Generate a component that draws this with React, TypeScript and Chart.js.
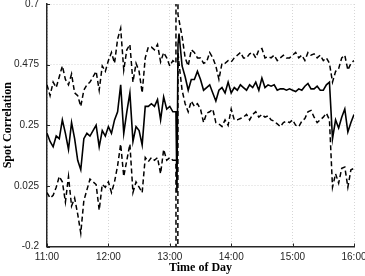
import React, { useEffect, useRef } from 'react';
import { Chart, registerables } from 'chart.js';

Chart.register(...registerables);

// sample times in minutes after 11:00 (3-minute steps, plus 1-minute samples around the 13:07 spike)
const sampleMinutes = [
  ...Array.from({ length: 43 }, (_, i) => i * 3),
  127,
  128,
  ...Array.from({ length: 58 }, (_, i) => 129 + i * 3),
];

const xTickValues = [0, 60, 120, 180, 240, 300];
const xTickLabels = ['11:00', '12:00', '13:00', '14:00', '15:00', '16:00'];
const yTickValues = [-0.2, 0.025, 0.25, 0.475, 0.7];
const yTickLabels = ['-0.2', '0.025', '0.25', '0.475', '0.7'];

const upperBand = [
  0.40, 0.36, 0.41, 0.39, 0.43, 0.47, 0.42, 0.40, 0.44, 0.37,
  0.36, 0.32, 0.38, 0.40, 0.41, 0.43, 0.45, 0.38, 0.47, 0.45,
  0.49, 0.52, 0.48, 0.57, 0.61, 0.455, 0.53, 0.55, 0.41, 0.48,
  0.45, 0.37, 0.50, 0.54, 0.54, 0.53, 0.55, 0.485, 0.52, 0.50,
  0.47, 0.49, 0.48, 5.0, 0.66, 0.64, 0.58, 0.50, 0.47, 0.53, 0.52, 0.50,
  0.50, 0.48, 0.485, 0.52, 0.50, 0.47, 0.42, 0.48, 0.48, 0.49,
  0.485, 0.50, 0.51, 0.52, 0.50, 0.50, 0.515, 0.52, 0.50, 0.53,
  0.535, 0.50, 0.505, 0.50, 0.51, 0.49, 0.50, 0.51, 0.50, 0.50,
  0.51, 0.52, 0.50, 0.51, 0.49, 0.52, 0.51, 0.515, 0.50, 0.51,
  0.49, 0.50, 0.48, 0.41, 0.45, 0.46, 0.50, 0.51, 0.455, 0.48,
  0.49,
];

const spotCorrelation = [
  0.22, 0.19, 0.17, 0.21, 0.20, 0.27, 0.22, 0.16, 0.26, 0.20,
  0.12, 0.085, 0.20, 0.22, 0.21, 0.23, 0.25, 0.17, 0.23, 0.21,
  0.245, 0.22, 0.27, 0.30, 0.40, 0.22, 0.30, 0.37, 0.19, 0.245,
  0.23, 0.177, 0.32, 0.32, 0.33, 0.32, 0.345, 0.27, 0.355, 0.31,
  0.32, 0.30, 0.30, 0.0, 0.55, 0.59, 0.47, 0.43, 0.38, 0.42, 0.42, 0.45,
  0.42, 0.38, 0.39, 0.40, 0.37, 0.34, 0.38, 0.39, 0.37, 0.41,
  0.37, 0.39, 0.38, 0.40, 0.39, 0.38, 0.40, 0.39, 0.41, 0.38,
  0.425, 0.39, 0.40, 0.395, 0.40, 0.38, 0.385, 0.385, 0.38, 0.385,
  0.38, 0.375, 0.385, 0.38, 0.395, 0.405, 0.385, 0.385, 0.395, 0.38,
  0.38, 0.40, 0.41, 0.20, 0.27, 0.24, 0.28, 0.31, 0.225, 0.26,
  0.29,
];

const lowerBand = [
  0.00, -0.02, -0.01, 0.02, 0.06, 0.04, -0.035, 0.06, -0.05, -0.02,
  -0.08, -0.15, -0.03, 0.01, 0.05, 0.04, 0.03, -0.065, 0.03, 0.02,
  0.04, 0.00, 0.04, 0.10, 0.18, 0.06, 0.12, 0.18, 0.00, 0.04,
  0.02, 0.00, 0.13, 0.115, 0.13, 0.12, 0.13, 0.07, 0.16, 0.12,
  0.13, 0.12, 0.12, -5.0, 0.52, 0.48, 0.38, 0.33, 0.30, 0.34, 0.32, 0.33,
  0.31, 0.26, 0.295, 0.30, 0.31, 0.26, 0.255, 0.245, 0.27, 0.25,
  0.31, 0.27, 0.27, 0.275, 0.28, 0.29, 0.27, 0.29, 0.30, 0.28,
  0.29, 0.28, 0.285, 0.27, 0.265, 0.255, 0.245, 0.26, 0.265, 0.26,
  0.27, 0.25, 0.245, 0.265, 0.275, 0.30, 0.305, 0.28, 0.26, 0.27,
  0.28, 0.295, 0.27, 0.02, 0.07, 0.035, 0.09, 0.095, 0.02, 0.085,
  0.09,
];

const toPoints = (vals: number[]) => vals.map((v, i) => ({ x: sampleMinutes[i], y: v }));

const AXIS_COLOR = '#262626';

const innerTicks = {
  id: 'innerTicks',
  afterDraw(chart: any) {
    const { ctx, chartArea: a, scales } = chart;
    const x = scales.x;
    const y = scales.y;
    ctx.save();
    ctx.strokeStyle = AXIS_COLOR;
    ctx.lineWidth = 1;
    x.ticks.forEach((t: any) => {
      const px = Math.round(x.getPixelForValue(t.value)) + 0.5;
      ctx.beginPath();
      ctx.moveTo(px, a.bottom);
      ctx.lineTo(px, a.bottom - 3);
      ctx.stroke();
    });
    y.ticks.forEach((t: any) => {
      const py = Math.round(y.getPixelForValue(t.value)) + 0.5;
      ctx.beginPath();
      ctx.moveTo(a.left, py);
      ctx.lineTo(a.left + 3, py);
      ctx.stroke();
    });
    ctx.restore();
  },
};

export default function App() {
  const ref = useRef<HTMLCanvasElement | null>(null);

  useEffect(() => {
    document.body.style.margin = '0';
    const canvas = ref.current;
    if (!canvas) return;
    const tickFont = { family: "'Liberation Sans', Arial, sans-serif", size: 10, lineHeight: 0.8 };
    const titleFont = { family: "'Liberation Serif', 'Times New Roman', serif", size: 12, weight: 'bold' as const, lineHeight: 1 };
    const chart = new Chart(canvas, {
      type: 'line',
      data: {
        datasets: [
          {
            label: 'Upper',
            data: toPoints(upperBand),
            borderColor: '#000',
            borderWidth: 1.5,
            borderDash: [5, 3],
            pointRadius: 0,
            tension: 0,
            fill: false,
          },
          {
            label: 'Lower',
            data: toPoints(lowerBand),
            borderColor: '#000',
            borderWidth: 1.5,
            borderDash: [5, 3],
            pointRadius: 0,
            tension: 0,
            fill: false,
          },
          {
            label: 'Spot Correlation',
            data: toPoints(spotCorrelation),
            borderColor: '#000',
            borderWidth: 1.6,
            pointRadius: 0,
            tension: 0,
            fill: false,
          },
        ],
      },
      options: {
        animation: false,
        responsive: false,
        events: [],
        parsing: false as any,
        layout: { padding: 0 },
        plugins: { legend: { display: false }, tooltip: { enabled: false } },
        scales: {
          x: {
            type: 'linear',
            min: 0,
            max: 300,
            afterBuildTicks: (s: any) => {
              s.ticks = xTickValues.map((v) => ({ value: v }));
            },
            afterFit: (s: any) => {
              s.height = 29.5;
              s.paddingRight = 11;
            },
            ticks: {
              font: tickFont,
              color: AXIS_COLOR,
              padding: 7,
              maxRotation: 0,
              callback: (v: any) => {
                const i = xTickValues.indexOf(Number(v));
                return i >= 0 ? xTickLabels[i] : '';
              },
            },
            grid: {
              color: 'rgba(0,0,0,0.16)',
              lineWidth: 1,
              drawTicks: false,
            },
            border: { display: true, color: AXIS_COLOR, width: 1.5, dash: [1, 2] },
            title: {
              display: true,
              text: 'Time of Day',
              font: titleFont,
              color: '#000',
              padding: { top: 1.5, bottom: 2.5 },
            },
          },
          y: {
            type: 'linear',
            min: -0.2,
            max: 0.7,
            afterBuildTicks: (s: any) => {
              s.ticks = yTickValues.map((v) => ({ value: v }));
            },
            afterFit: (s: any) => {
              s.width = 47;
              s.paddingTop = 4;
              s.paddingBottom = 0;
            },
            ticks: {
              font: tickFont,
              color: AXIS_COLOR,
              padding: 8,
              callback: (v: any) => {
                const n = Number(v);
                let best = 0;
                yTickValues.forEach((t, i) => {
                  if (Math.abs(t - n) < Math.abs(yTickValues[best] - n)) best = i;
                });
                return yTickLabels[best];
              },
            },
            grid: {
              color: 'rgba(0,0,0,0.16)',
              lineWidth: 1,
              drawTicks: false,
            },
            border: { display: true, color: AXIS_COLOR, width: 1.5, dash: [1, 2] },
            title: {
              display: true,
              text: 'Spot Correlation',
              font: titleFont,
              color: '#000',
              padding: { top: 1.5, bottom: 0 },
            },
          },
        },
      },
      plugins: [innerTicks],
    });
    return () => chart.destroy();
  }, []);

  return (
    <div style={{ width: 365, height: 276 }}>
      <canvas ref={ref} width={365} height={276} style={{ display: 'block' }} />
    </div>
  );
}
